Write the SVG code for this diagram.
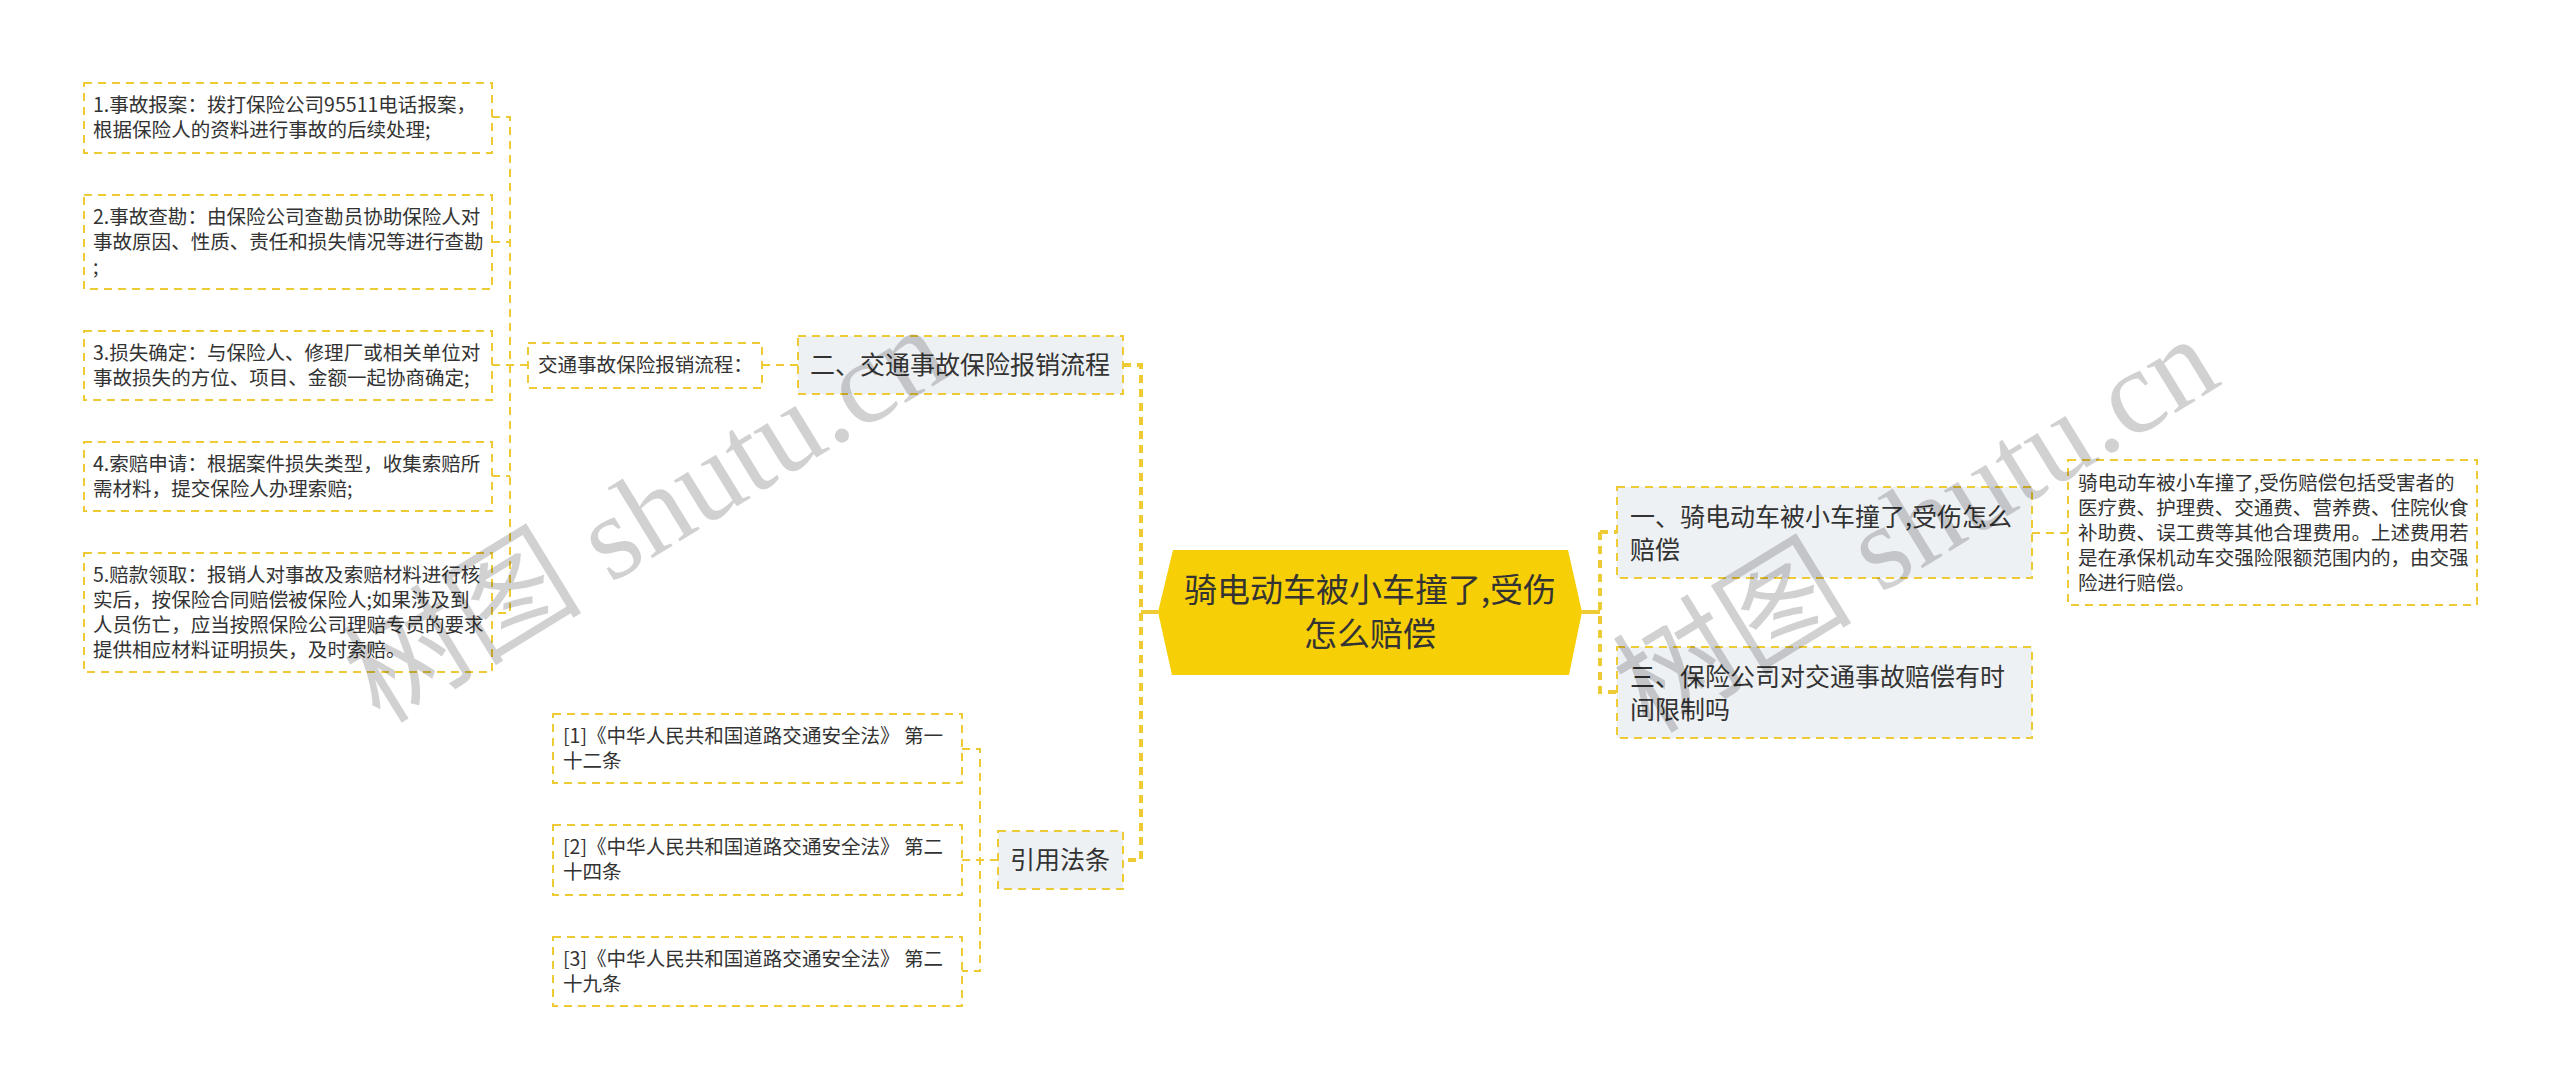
<svg xmlns="http://www.w3.org/2000/svg" width="2560" height="1089" viewBox="0 0 2560 1089">
<style>
text{font-family:"Noto Sans CJK SC","Liberation Sans",sans-serif;fill:#333}
.b{fill:#fff;stroke:#eecb35;stroke-width:2;stroke-dasharray:8 6}
.g{fill:#eef1f4;stroke:#eecb35;stroke-width:2;stroke-dasharray:8 6}
.s{font-size:19.55px}
.m{font-size:25px}
.c{fill:none;stroke:#eecb35;stroke-width:2;stroke-dasharray:8 6}
.t{fill:none;stroke:#eecb35;stroke-width:4;stroke-dasharray:8 6}
.u{fill:none;stroke:#eecb35;stroke-width:4}
.w{font-family:"Liberation Serif","Noto Sans CJK SC",serif;font-size:120px;fill:#000;fill-opacity:.18}
</style>
<rect width="2560" height="1089" fill="#fff"/>
<g id="connectors">
<path class="c" d="M492 117H510V613H492M492 242H510M492 365H528M492 476H510M762 365H798"/>
<path class="c" d="M962 749H980V971H962M962 860H998"/>
<path class="c" d="M2032 533H2068"/>
<path class="t" d="M1123 365H1141V860H1123"/>
<path class="t" d="M1600 532H1618M1600 532V692H1618"/>
<path class="u" d="M1141 612H1158M1582 612H1600"/>
</g>
<g id="n1"><rect class="b" x="84" y="83" width="408" height="70"/><text class="s" x="93" y="112">1.事故报案&#xFF1A;拨打保险公司95511电话报案&#xFF0C;</text><text class="s" x="93" y="137">根据保险人的资料进行事故的后续处理;</text></g>
<g id="n2"><rect class="b" x="84" y="195" width="408" height="94"/><text class="s" x="93" y="224">2.事故查勘&#xFF1A;由保险公司查勘员协助保险人对</text><text class="s" x="93" y="249">事故原因、性质、责任和损失情况等进行查勘</text><text class="s" x="93" y="274">;</text></g>
<g id="n3"><rect class="b" x="84" y="331" width="408" height="69"/><text class="s" x="93" y="360">3.损失确定&#xFF1A;与保险人、修理厂或相关单位对</text><text class="s" x="93" y="385">事故损失的方位、项目、金额一起协商确定;</text></g>
<g id="n4"><rect class="b" x="84" y="442" width="408" height="69"/><text class="s" x="93" y="471">4.索赔申请&#xFF1A;根据案件损失类型&#xFF0C;收集索赔所</text><text class="s" x="93" y="496">需材料&#xFF0C;提交保险人办理索赔;</text></g>
<g id="n5"><rect class="b" x="84" y="553" width="408" height="119"/><text class="s" x="93" y="582">5.赔款领取&#xFF1A;报销人对事故及索赔材料进行核</text><text class="s" x="93" y="607">实后&#xFF0C;按保险合同赔偿被保险人;如果涉及到</text><text class="s" x="93" y="632">人员伤亡&#xFF0C;应当按照保险公司理赔专员的要求</text><text class="s" x="93" y="657">提供相应材料证明损失&#xFF0C;及时索赔。</text></g>
<g id="n6"><rect class="b" x="528" y="343" width="234" height="45"/><text class="s" x="538" y="372">交通事故保险报销流程&#xFF1A;</text></g>
<g id="n7"><rect class="g" x="798" y="336" width="325" height="58"/><text class="m" x="810" y="374">二、交通事故保险报销流程</text></g>
<g id="n8"><rect class="b" x="553" y="714" width="409" height="69"/><text class="s" x="563" y="743">[1]《中华人民共和国道路交通安全法》 第一</text><text class="s" x="563" y="768">十二条</text></g>
<g id="n9"><rect class="b" x="553" y="825" width="409" height="70"/><text class="s" x="563" y="854">[2]《中华人民共和国道路交通安全法》 第二</text><text class="s" x="563" y="879">十四条</text></g>
<g id="n10"><rect class="b" x="553" y="937" width="409" height="69"/><text class="s" x="563" y="966">[3]《中华人民共和国道路交通安全法》 第二</text><text class="s" x="563" y="991">十九条</text></g>
<g id="n11"><rect class="g" x="998" y="831" width="125" height="58"/><text class="m" x="1010" y="869">引用法条</text></g>
<g id="hub"><polygon points="1158,612 1173,550 1568,550 1582,612 1569,675 1172,675" fill="#f7cf06"/><text x="1370" y="602" font-size="33" text-anchor="middle">骑电动车被小车撞了,受伤</text><text x="1370" y="646" font-size="33" text-anchor="middle">怎么赔偿</text></g>
<g id="n12"><rect class="g" x="1617" y="487" width="415" height="91"/><text class="m" x="1630" y="526">一、骑电动车被小车撞了,受伤怎么</text><text class="m" x="1630" y="559">赔偿</text></g>
<g id="n13"><rect class="g" x="1617" y="647" width="415" height="91"/><text class="m" x="1630" y="686">三、保险公司对交通事故赔偿有时</text><text class="m" x="1630" y="719">间限制吗</text></g>
<g id="n14"><rect class="b" x="2068" y="460" width="409" height="145"/><text class="s" x="2078" y="490">骑电动车被小车撞了,受伤赔偿包括受害者的</text><text class="s" x="2078" y="515">医疗费、护理费、交通费、营养费、住院伙食</text><text class="s" x="2078" y="540">补助费、误工费等其他合理费用。上述费用若</text><text class="s" x="2078" y="565">是在承保机动车交强险限额范围内的&#xFF0C;由交强</text><text class="s" x="2078" y="590">险进行赔偿。</text></g>
<text class="w" transform="translate(380 725) rotate(-31.5)">树图 shutu.cn</text>
<text class="w" transform="translate(1650 735) rotate(-31.5)">树图 shutu.cn</text>
</svg>
